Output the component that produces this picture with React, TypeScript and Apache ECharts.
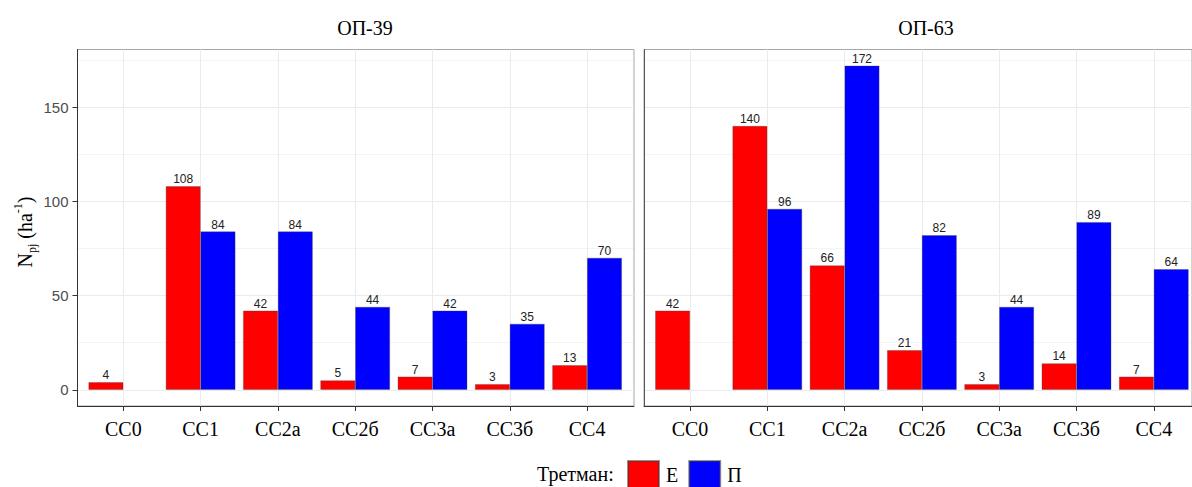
import React, { useEffect, useRef } from "react";
import * as echarts from "echarts";

const categories = ["СС0", "СС1", "СС2а", "СС2б", "СС3а", "СС3б", "СС4"];
const op39E: (number | null)[] = [4, 108, 42, 5, 7, 3, 13];
const op39P: (number | null)[] = [null, 84, 84, 44, 42, 35, 70];
const op63E: (number | null)[] = [42, 140, 66, 21, 3, 14, 7];
const op63P: (number | null)[] = [null, 96, 172, 82, 44, 89, 64];
const panelTitles = ["ОП-39", "ОП-63"];
const seriesNames = ["Е", "П"];
const majorTicks = [0, 50, 100, 150];
const yMin = -8.6;
const yMax = 180.6;

const RED = "#FF0000";
const BLUE = "#0000FF";
const SERIF = "'Liberation Serif', 'DejaVu Serif', serif";
const SANS = "'Liberation Sans', Arial, sans-serif";

export default function App() {
  const ref = useRef<HTMLDivElement>(null);
  useEffect(() => {
    if (!ref.current) return;
    const chart = echarts.init(ref.current, null, { renderer: "svg" });

    const top = 49.5;
    const height = 356.5;
    const unit = 77.3;
    const panels = [
      { left: 77.5, width: 556.5, c0: 123.3 },
      { left: 644, width: 556, c0: 690 },
    ];

    const grids: any[] = [];
    const xAxes: any[] = [];
    const yAxes: any[] = [];
    const series: any[] = [];
    const dataSets = [
      [op39E, op39P],
      [op63E, op63P],
    ];

    panels.forEach((p, i) => {
      const gA = grids.length;
      grids.push({
        left: p.left,
        top,
        width: p.width,
        height,
        show: true,
        backgroundColor: "transparent",
        borderColor: "#a6a6a6",
        borderWidth: 1,
        z: 0,
      });
      const gB = grids.length;
      grids.push({
        left: p.c0,
        top,
        width: unit * (categories.length - 1),
        height,
        show: false,
      });
      xAxes.push({
        gridIndex: gA,
        type: "value",
        min: 0,
        max: 1,
        position: "bottom",
        axisLine: { show: true, onZero: false, lineStyle: { color: "#333", width: 1 } },
        axisTick: { show: false },
        axisLabel: { show: false },
        splitLine: { show: false },
      });
      xAxes.push({
        gridIndex: gB,
        type: "category",
        data: categories,
        boundaryGap: false,
        axisLine: { show: false, onZero: false },
        axisTick: { show: true, length: 5, lineStyle: { color: "#333" } },
        axisLabel: {
          show: true,
          margin: 13,
          fontFamily: SERIF,
          fontSize: 20,
          color: "#000",
          interval: 0,
        },
        splitLine: { show: true, lineStyle: { color: "#ebebeb", width: 1 } },
        z: 1,
      });
      const xB = xAxes.length - 1;
      yAxes.push({
        gridIndex: gA,
        type: "value",
        min: yMin,
        max: yMax,
        minInterval: 50,
        maxInterval: 50,
        axisLine: { show: true, onZero: false, lineStyle: { color: i === 0 ? "#333" : "#555" } },
        axisTick: {
          show: i === 0,
          length: 5,
          customValues: majorTicks,
          lineStyle: { color: "#333" },
        },
        axisLabel: {
          show: i === 0,
          customValues: majorTicks,
          margin: 9,
          fontFamily: SANS,
          fontSize: 15,
          color: "#4d4d4d",
        },
        splitLine: { show: true, lineStyle: { color: "#ebebeb", width: 1 } },
        z: 0,
      });
      yAxes.push({
        gridIndex: gA,
        type: "value",
        position: "left",
        min: yMin,
        max: yMax,
        minInterval: 25,
        maxInterval: 25,
        axisLine: { show: false },
        axisTick: { show: false },
        axisLabel: { show: false },
        splitLine: { show: true, lineStyle: { color: "#f4f4f4", width: 1 } },
        z: -1,
      });
      yAxes.push({
        gridIndex: gB,
        type: "value",
        min: yMin,
        max: yMax,
        show: false,
        splitLine: { show: false },
      });
      const yB = yAxes.length - 1;

      dataSets[i].forEach((vals, k) => {
        series.push({
          type: "bar",
          name: seriesNames[k],
          xAxisIndex: xB,
          yAxisIndex: yB,
          data: vals.map((v) => (v == null ? "-" : v)),
          barGap: "0%",
          barCategoryGap: "10%",
          clip: false,
          itemStyle: {
            color: k === 0 ? RED : BLUE,
            borderColor: "rgba(60,60,60,0.55)",
            borderWidth: 0.6,
          },
          label: {
            show: true,
            position: "top",
            distance: 1,
            fontFamily: SANS,
            fontSize: 12,
            color: "#222",
          },
          z: 3,
        });
      });
    });

    chart.setOption({
      animation: false,
      backgroundColor: "#fff",
      grid: grids,
      xAxis: xAxes,
      yAxis: yAxes,
      series,
      legend: {
        data: seriesNames,
        left: 627,
        top: 460,
        padding: 0,
        itemWidth: 31,
        itemHeight: 28,
        itemGap: 10,
        icon: "rect",
        selectedMode: false,
        textStyle: { fontFamily: SERIF, fontSize: 20, color: "#000", padding: [0, 0, 0, 2] },
      },
      graphic: [
        {
          type: "text",
          x: 365,
          y: 28,
          style: {
            text: panelTitles[0],
            fontFamily: SERIF,
            fontSize: 20,
            fill: "#000",
            align: "center",
            verticalAlign: "middle",
          },
        },
        {
          type: "text",
          x: 926,
          y: 28,
          style: {
            text: panelTitles[1],
            fontFamily: SERIF,
            fontSize: 20,
            fill: "#000",
            align: "center",
            verticalAlign: "middle",
          },
        },
        {
          type: "text",
          x: 537,
          y: 474,
          style: {
            text: "Третман:",
            fontFamily: SERIF,
            fontSize: 20,
            fill: "#000",
            align: "left",
            verticalAlign: "middle",
          },
        },
        {
          type: "text",
          x: 25,
          y: 232,
          rotation: Math.PI / 2,
          style: {
            text: "{n|N}{sub|pj}{n| (ha}{sup|-1}{n|)}",
            fontFamily: SERIF,
            fontSize: 20,
            fill: "#000",
            align: "center",
            verticalAlign: "middle",
            rich: {
              n: { fontFamily: SERIF, fontSize: 20, fill: "#000", lineHeight: 26 },
              sub: {
                fontFamily: SERIF,
                fontSize: 12,
                fill: "#000",
                lineHeight: 12,
                verticalAlign: "bottom",
              },
              sup: {
                fontFamily: SERIF,
                fontSize: 12,
                fill: "#000",
                lineHeight: 12,
                verticalAlign: "top",
              },
            },
          },
        },
      ],
    });
    return () => chart.dispose();
  }, []);

  return (
    <div
      ref={ref}
      style={{ position: "fixed", left: 0, top: 0, width: 1192, height: 487, background: "#fff" }}
    />
  );
}
